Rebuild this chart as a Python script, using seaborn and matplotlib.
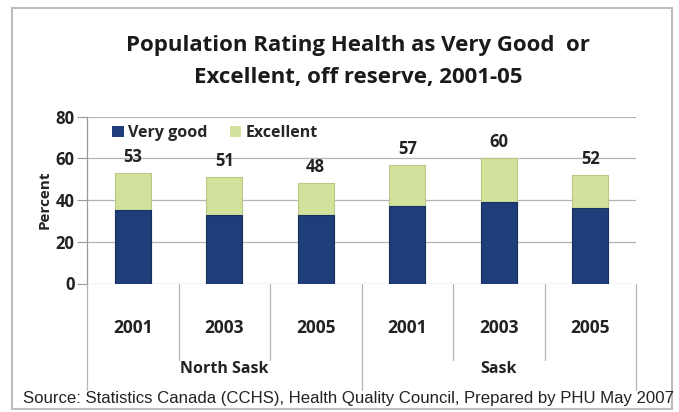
import matplotlib
matplotlib.use("Agg")
import matplotlib.pyplot as plt
from matplotlib.patches import Rectangle
from matplotlib.lines import Line2D
from matplotlib.transforms import blended_transform_factory
import seaborn as sns
import pandas as pd

# Survey results (percent of population), off reserve
regions = ["North Sask", "North Sask", "North Sask", "Sask", "Sask", "Sask"]
years = ["2001", "2003", "2005", "2001", "2003", "2005"]
very_good = [35, 33, 33, 37, 39, 36]
total = [53, 51, 48, 57, 60, 52]          # Very good + Excellent
group_labels = ["North Sask", "Sask"]
yticks = [0, 20, 40, 60, 80]

NAVY = "#1f3d78"
GREEN = "#d2e29c"
FONT = "Open Sans"

df = pd.DataFrame({
    "key": [f"{r} {y}" for r, y in zip(regions, years)],
    "year": years,
    "very_good": very_good,
    "total": total,
})

sns.set_theme(style="white")
plt.rcParams["font.family"] = [FONT, "DejaVu Sans"]

W, H = 679, 412
fig = plt.figure(figsize=(W / 100, H / 100), dpi=100)
ax = fig.add_axes([87 / W, 1 - 283.5 / H, (636 - 87) / W, (283.5 - 116.5) / H])

# stacked bars: full height in green, "Very good" portion over it in navy
sns.barplot(data=df, x="key", y="total", color=GREEN, width=0.39,
            edgecolor="#b9c884", linewidth=0.8, saturation=1, ax=ax, zorder=3)
sns.barplot(data=df, x="key", y="very_good", color=NAVY, width=0.39,
            edgecolor="#16305f", linewidth=0.8, saturation=1, ax=ax, zorder=4)

ax.set_xlim(-0.5, len(df) - 0.5)
ax.set_ylim(0, 80)
ax.set_yticks(yticks)
ax.set_yticklabels([str(t) for t in yticks], fontsize=12, fontweight="bold",
                   color="#222222")
ax.tick_params(axis="y", length=7, width=0.8, color="#9a9a9a", pad=2, left=True)
ax.set_xticks([])
ax.set_xlabel("")
ax.set_ylabel("Percent", fontsize=11, fontweight="bold", color="#222222",
              labelpad=3)

for s in ["top", "right", "bottom"]:
    ax.spines[s].set_visible(False)
ax.spines["left"].set_color("#9a9a9a")
ax.spines["left"].set_linewidth(0.9)
ax.yaxis.grid(True, color="#b5b5b5", linewidth=0.9)
ax.set_axisbelow(True)

# total value above each bar
for i, t in enumerate(total):
    ax.annotate(str(t), (i, t), xytext=(0, 5), textcoords="offset points",
                ha="center", va="bottom", fontsize=12, fontweight="bold",
                color="#222222")

# legend
handles = [Rectangle((0, 0), 1, 1, facecolor=NAVY, edgecolor="none"),
           Rectangle((0, 0), 1, 1, facecolor=GREEN, edgecolor="none")]
ax.legend(handles, ["Very good", "Excellent"], loc="upper left",
          bbox_to_anchor=(0.02, 1.035), ncol=2, frameon=False,
          prop={"family": FONT, "weight": "bold", "size": 11.5},
          handlelength=0.7, handleheight=0.7, handletextpad=0.3,
          columnspacing=1.4)

# category axis drawn below the plot: year labels, group labels and dividers
tr = blended_transform_factory(ax.transData, fig.transFigure)
def fy(px):
    return 1 - px / H

for i, y in enumerate(years):
    fig.text(i, fy(328), y, transform=tr, ha="center", va="center",
             fontsize=12.5, fontweight="bold", color="#222222")

n = len(years)
for b in range(n + 1):
    x = b - 0.5
    long = b in (0, n // 2, n)
    fig.add_artist(Line2D([x, x], [fy(283.5), fy(390 if long else 360)],
                          transform=tr, color="#b5b5b5", linewidth=0.9))

for g, label in enumerate(group_labels):
    fig.text(g * 3 + 1, fy(369), label, transform=tr, ha="center",
             va="center", fontsize=11.5, fontweight="bold", color="#222222")

# title
fig.text(358 / W, fy(45), "Population Rating Health as Very Good  or",
         ha="center", va="center", fontsize=16, fontweight="bold",
         color="#1a1a1a")
fig.text(358 / W, fy(77), "Excellent, off reserve, 2001-05",
         ha="center", va="center", fontsize=16, fontweight="bold",
         color="#1a1a1a")

# source note
fig.text(349 / W, fy(398), "Source: Statistics Canada (CCHS), Health Quality "
         "Council, Prepared by PHU May 2007", ha="center", va="center",
         fontsize=12.1, family=["Liberation Sans", "DejaVu Sans"],
         color="#222222")

# chart area border
fig.add_artist(Rectangle((12 / W, fy(409)), (672 - 12) / W, (409 - 8) / H,
                         transform=fig.transFigure, fill=False,
                         edgecolor="#bdbdbd", linewidth=1.5))

fig.savefig("out.png", dpi=100)
